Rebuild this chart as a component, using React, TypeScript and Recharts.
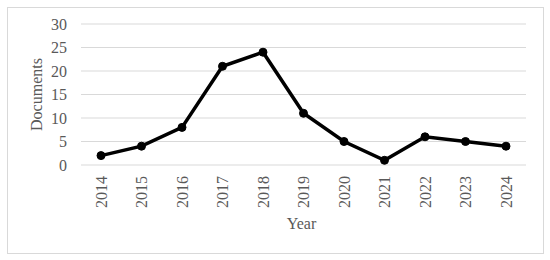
import {
  LineChart,
  Line,
  XAxis,
  YAxis,
  CartesianGrid,
} from "recharts";

const years = ["2014", "2015", "2016", "2017", "2018", "2019", "2020", "2021", "2022", "2023", "2024"];
const documents = [2, 4, 8, 21, 24, 11, 5, 1, 6, 5, 4];
const yTicks = [0, 5, 10, 15, 20, 25, 30];

const chartData = years.map((year, i) => ({ year, documents: documents[i] }));

const FONT = '"Liberation Serif", "Times New Roman", serif';
const TEXT_COLOR = "#595959";

function YearTick({ x, y, payload }: any) {
  return (
    <text
      x={x}
      y={y + 11}
      transform={`rotate(-90, ${x}, ${y + 11})`}
      textAnchor="end"
      dominantBaseline="central"
      fill={TEXT_COLOR}
      fontSize={16}
      fontFamily={FONT}
    >
      {payload.value}
    </text>
  );
}

export default function App() {
  return (
    <div style={{ position: "absolute", left: 0, top: 0, width: 550, height: 260, background: "#fff" }}>
      <div
        style={{
          position: "absolute",
          left: 7,
          top: 7,
          width: 535,
          height: 245,
          border: "1px solid #d9d9d9",
        }}
      />
      <LineChart
        width={550}
        height={260}
        data={chartData}
        margin={{ top: 24, right: 24, left: 0, bottom: 25 }}
        style={{ position: "absolute", left: 0, top: 0 }}
      >
        <CartesianGrid vertical={false} stroke="#d9d9d9" strokeWidth={1} />
        <XAxis
          dataKey="year"
          axisLine={false}
          tickLine={false}
          tickSize={0}
          tickMargin={0}
          interval={0}
          height={70}
          padding={{ left: 20, right: 20 }}
          tick={<YearTick />}
          label={({ viewBox }: any) => (
            <text
              x={viewBox.x + viewBox.width / 2 - 2}
              y={viewBox.y + 58}
              textAnchor="middle"
              dominantBaseline="central"
              fill={TEXT_COLOR}
              fontSize={16}
              fontFamily={FONT}
            >
              Year
            </text>
          )}
        />
        <YAxis
          domain={[0, 30]}
          ticks={yTicks}
          width={81}
          axisLine={false}
          tickLine={false}
          tickSize={0}
          tickMargin={14}
          tick={{ fill: TEXT_COLOR, fontSize: 16, fontFamily: FONT }}
          label={({ viewBox }: any) => (
            <text
              x={36}
              y={viewBox.y + viewBox.height / 2}
              transform={`rotate(-90, 36, ${viewBox.y + viewBox.height / 2})`}
              textAnchor="middle"
              dominantBaseline="central"
              fill={TEXT_COLOR}
              fontSize={16}
              fontFamily={FONT}
            >
              Documents
            </text>
          )}
        />
        <Line
          type="linear"
          dataKey="documents"
          stroke="#000"
          strokeWidth={3.5}
          dot={{ r: 4, fill: "#000", stroke: "#000", strokeWidth: 1 }}
          activeDot={false}
          isAnimationActive={false}
        />
      </LineChart>
    </div>
  );
}
